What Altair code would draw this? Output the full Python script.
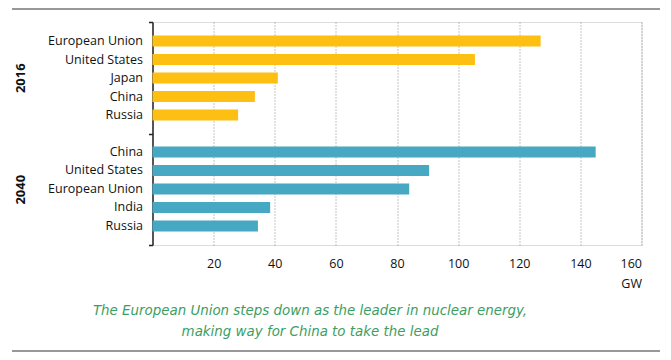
import altair as alt
import pandas as pd

countries_2016 = ["European Union", "United States", "Japan", "China", "Russia"]
gw_2016 = [127, 105.5, 41, 33.5, 28]
countries_2040 = ["China", "United States", "European Union", "India", "Russia"]
gw_2040 = [145, 90.5, 84, 38.5, 34.5]
years = ["2016", "2040"]
x_ticks = [20, 40, 60, 80, 100, 120, 140, 160]
bracket_ticks = [0, 1, 2]
caption = ["The European Union steps down as the leader in nuclear energy,",
           "making way for China to take the lead"]
bar_colors = ["#FDBF12", "#46A8C3"]

rows = []
for c, v in zip(countries_2016, gw_2016):
    rows.append({"year": "2016", "country": c, "gw": v, "key": "2016|" + c})
for c, v in zip(countries_2040, gw_2040):
    rows.append({"year": "2040", "country": c, "gw": v, "key": "2040|" + c})
df = pd.DataFrame(rows)
keys = ["2016|" + c for c in countries_2016] + ["gap"] + ["2040|" + c for c in countries_2040]

FONT = "Open Sans"
TXT = "#111111"

base = alt.Chart(df)

bars = base.mark_bar().encode(
    x=alt.X("gw:Q",
            scale=alt.Scale(domain=[0, 160], nice=False),
            axis=alt.Axis(values=x_ticks, grid=True, gridDash=[1, 2], gridColor="#888",
                          gridWidth=1, domain=False, ticks=False, labelPadding=12,
                          labelFontSize=12.5, labelFont=FONT, labelColor=TXT,
                          title="GW", titleAnchor="end", titleAlign="right",
                          titleFontSize=12.5, titleFont=FONT, titleFontWeight="normal",
                          titleColor=TXT, titlePadding=8)),
    y=alt.Y("key:N",
            scale=alt.Scale(domain=keys, paddingInner=0.4, paddingOuter=0.73),
            axis=alt.Axis(orient="left", labelExpr="split(datum.label, '|')[1] || ''",
                          ticks=False, domain=True, domainColor="#222", domainWidth=1.5,
                          labelPadding=10, labelFontSize=12.5, labelFont=FONT,
                          labelColor=TXT, title=None, grid=False)),
    color=alt.Color("year:N", scale=alt.Scale(domain=years, range=bar_colors), legend=None),
)

year_layer = base.mark_point(opacity=0).encode(
    y=alt.Y("year:N",
            scale=alt.Scale(domain=years, paddingInner=0, paddingOuter=0),
            axis=alt.Axis(orient="left", labelAngle=-90, labelAlign="center",
                          labelBaseline="middle", ticks=False, tickSize=0, domain=False,
                          labelPadding=132, labelFontSize=13, labelFontWeight="bold",
                          labelFont=FONT, labelColor=TXT, title=None, grid=False)),
)

bracket_layer = base.mark_point(opacity=0).encode(
    y=alt.YDatum(1, type="quantitative",
                 scale=alt.Scale(domain=[0, 2], nice=False, zero=False),
                 axis=alt.Axis(orient="left", values=bracket_ticks, labels=False,
                               ticks=True, tickSize=4, tickColor="#222", tickWidth=1.5,
                               domain=False, grid=False, title=None)),
)

top_rule = base.mark_rule(color="#999", strokeWidth=1.5).encode(
    x=alt.value(-140), x2=alt.value(507), y=alt.value(-13))
bottom_rule = base.mark_rule(color="#999", strokeWidth=1.5).encode(
    x=alt.value(-140), x2=alt.value(507), y=alt.value(329))

chart = alt.layer(bars, year_layer, bracket_layer, top_rule, bottom_rule).resolve_scale(
    y="independent"
).properties(
    width=489, height=223,
    autosize=alt.AutoSizeParams(type="none"),
    padding={"left": 144.5, "top": 14, "right": 21, "bottom": 107},
    title=alt.TitleParams(text=caption, orient="bottom", anchor="middle", dx=-87,
                          offset=-48, font="DejaVu Sans", fontSize=13.4, fontStyle="italic",
                          fontWeight="normal", color="#3b9e62", lineHeight=21),
).configure_view(stroke=None).configure(background="white")

chart.save("out.html", embed_options={"renderer": "svg", "actions": False})
